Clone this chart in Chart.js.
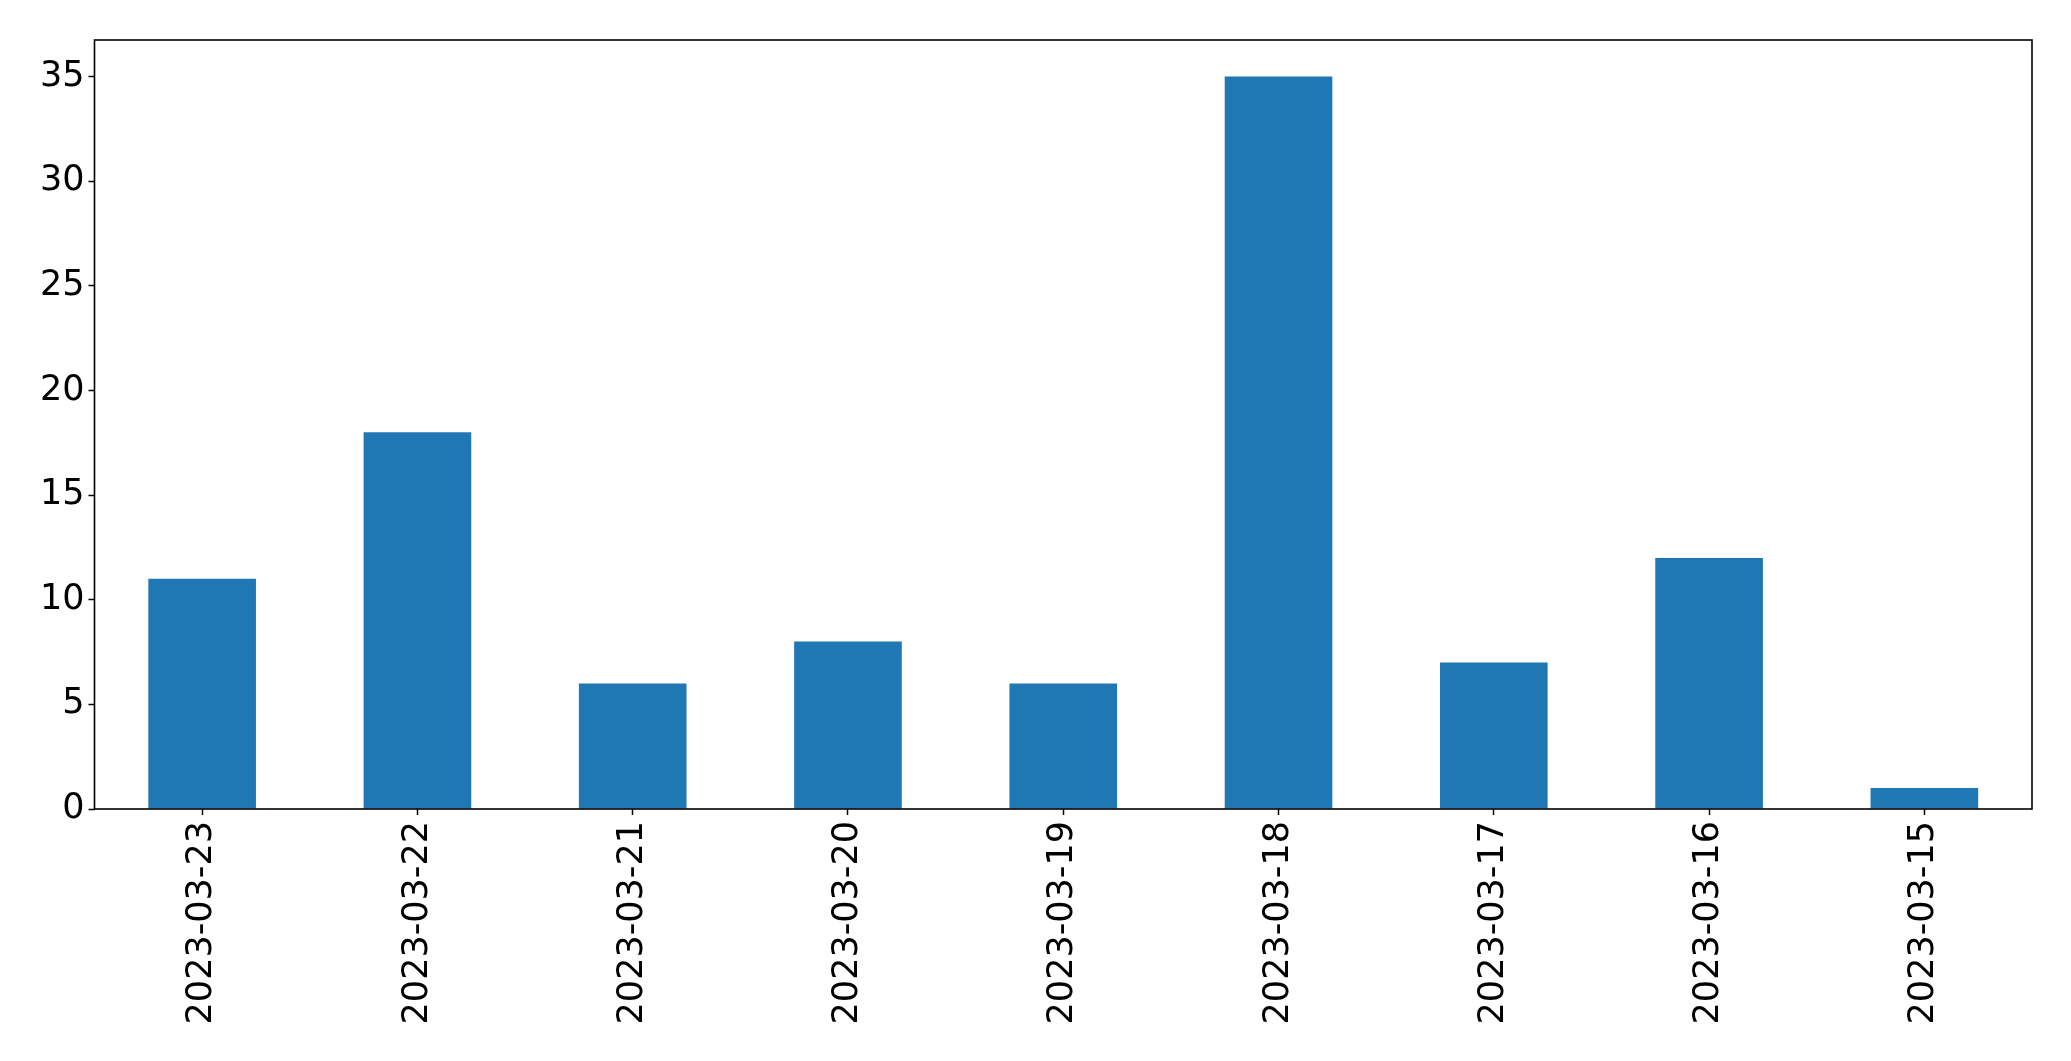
<!DOCTYPE html>
<html>
<head>
<meta charset="utf-8">
<script src="https://cdn.jsdelivr.net/npm/chart.js@4"></script>
<style>
  body { margin: 0; background: #fff; }
  canvas { display: block; }
</style>
</head>
<body>
<canvas id="chart" width="2071" height="1061"></canvas>
<script>
// Chart data
const dates = ['2023-03-23', '2023-03-22', '2023-03-21', '2023-03-20', '2023-03-19',
    '2023-03-18', '2023-03-17', '2023-03-16', '2023-03-15'];
const counts = [11, 18, 6, 8, 6, 35, 7, 12, 1];
const yTicks = [0, 5, 10, 15, 20, 25, 30, 35];

// box around the plot area
const frame = {
    id: 'frame',
    afterDraw(chart) {
        const a = chart.chartArea;
        const ctx = chart.ctx;
        ctx.save();
        ctx.strokeStyle = '#000';
        ctx.lineWidth = 1.6;
        ctx.strokeRect(a.left, a.top, a.right - a.left, a.bottom - a.top);
        ctx.restore();
    }
};

const font = { family: 'DejaVu Sans', size: 35 };

new Chart(document.getElementById('chart').getContext('2d'), {
    type: 'bar',
    data: {
        labels: dates,
        datasets: [{
            data: counts,
            backgroundColor: '#1f77b4',
            barPercentage: 0.5,
            categoryPercentage: 1.0
        }]
    },
    options: {
        responsive: false,
        animation: false,
        layout: { padding: { top: 40, right: 39, left: 0, bottom: 0 } },
        plugins: { legend: { display: false }, tooltip: { enabled: false } },
        scales: {
            x: {
                grid: { display: true, drawOnChartArea: false, offset: false, tickLength: 6, color: '#000', tickWidth: 1.5 },
                border: { display: false },
                ticks: { font: font, color: '#000', minRotation: 90, maxRotation: 90, padding: 6, autoSkip: false },
                afterFit(scale) { scale.height = 252; }
            },
            y: {
                min: 0,
                max: 36.75,
                grid: { display: true, drawOnChartArea: false, tickLength: 6, color: '#000', tickWidth: 1.5 },
                border: { display: false },
                ticks: { font: font, color: '#000', stepSize: 5, padding: 4 },
                afterBuildTicks(scale) {
                    scale.ticks = yTicks.map(v => ({ value: v }));
                },
                afterFit(scale) { scale.width = 94.5; }
            }
        }
    },
    plugins: [frame]
});
</script>
</body>
</html>
